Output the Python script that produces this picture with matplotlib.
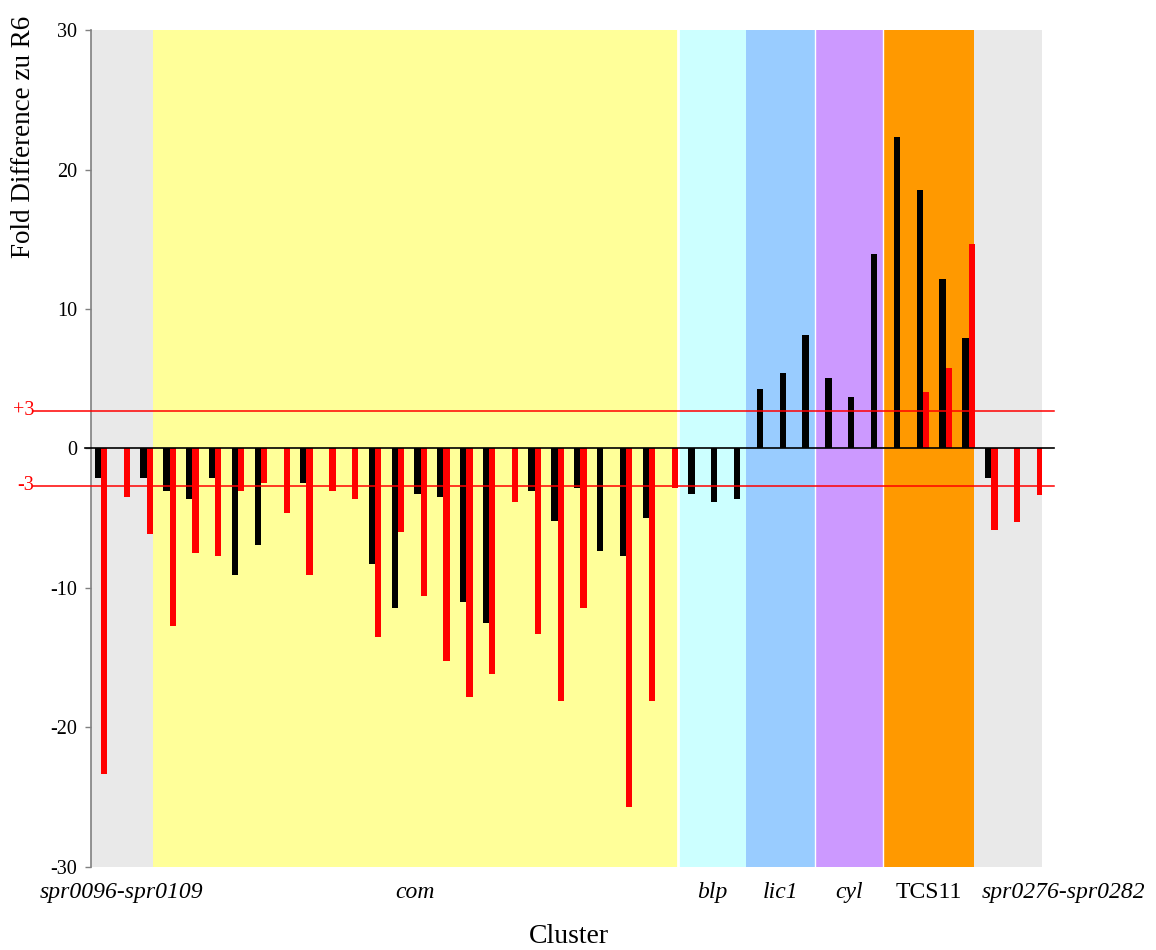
"""Fold difference per gene, grouped by cluster."""

import numpy as np
import matplotlib as mpl

mpl.use("Agg")
import matplotlib.pyplot as plt
import matplotlib.transforms as mtransforms

plt.rcParams["font.family"] = ["Liberation Serif", "DejaVu Serif"]

# values, one entry per gene position (nan = no bar)
black_vals = [
    -2.15, np.nan, -2.15, -3.06, -3.64, -2.15, -9.1, -6.94, np.nan, -2.49,
    np.nan, np.nan, -8.3, -11.4, -3.28, -3.5, -11.03, -12.54, np.nan, -3.06,
    -5.2, -2.85, -7.37, -7.73, -5.0, np.nan, -3.28, -3.85, -3.64, 4.24,
    5.38, 8.11, 5.03, 3.66, 13.93, 22.33, 18.52, 12.13, 7.9, -2.15,
    np.nan, np.nan,
]
red_vals = [
    -23.3, -3.5, -6.15, -12.75, -7.5, -7.73, -3.06, -2.49, -4.64, -9.1,
    -3.06, -3.64, -13.5, -6.0, -10.6, -15.27, -17.8, -16.2, -3.85, -13.33,
    -18.1, -11.4, np.nan, -25.67, -18.1, -2.85, np.nan, np.nan, np.nan, np.nan,
    np.nan, np.nan, np.nan, np.nan, np.nan, np.nan, 4.02, 5.74, 14.64, -5.81,
    -5.24, -3.3,
]

clusters = ["spr0096-spr0109", "com", "blp", "lic1", "cyl", "TCS11", "spr0276-spr0282"]
cluster_sizes = [3, 23, 3, 3, 3, 4, 3]
cluster_colors = ["#E9E9E9", "#FFFF99", "#CCFFFF", "#99CCFF", "#CC99FF", "#FF9900", "#E9E9E9"]
cluster_italic = [True, True, True, True, True, False, True]

threshold = 2.7  # where the +3 / -3 lines sit on the drawn scale
yticks = [-30, -20, -10, 0, 10, 20, 30]

black = np.array(black_vals)
red = np.array(red_vals)
x = np.arange(len(black))
w = 0.275

fig = plt.figure(figsize=(11.56, 9.5), dpi=100)
ax = fig.add_axes([0.0787, 0.0874, 0.8227, 0.881])

# cluster background bands
edges = np.concatenate([[0], np.cumsum(cluster_sizes)]) - 0.74
edges[0] = -0.44
for i, (name, col) in enumerate(zip(clusters, cluster_colors)):
    ax.axvspan(edges[i], edges[i + 1], color=col, lw=0, zorder=0)
for k, lw in [(2, 2.0), (4, 1.0), (5, 1.0)]:
    ax.axvline(edges[k], color="white", lw=lw, zorder=0.5)

mb = ~np.isnan(black)
mr = ~np.isnan(red)
ax.bar(x[mb] - w / 2, black[mb], width=w, color="black", lw=0, zorder=3)
ax.bar(x[mr] + w / 2, red[mr], width=w, color="#FF0000", lw=0, zorder=3)

# reference lines, drawn past the axes like in the original
ax.axhline(0, xmin=-0.0063, xmax=1.0126, color="black", lw=1.2, clip_on=False, zorder=4)
ytrans = mtransforms.blended_transform_factory(ax.transAxes, ax.transData)
for t, lab in [(threshold, "+3"), (-threshold, "-3")]:
    ax.axhline(t, xmin=-0.061, xmax=1.0126, color="#FF0000", lw=1.1, clip_on=False, zorder=4)
    ax.text(-0.060, t + 0.05, lab, transform=ytrans, ha="right", va="center",
            color="#FF0000", fontsize=14.5)

ax.set_xlim(-0.44, 41.22)
ax.set_ylim(-30, 30)
ax.set_yticks(yticks)
ax.set_yticklabels([str(v) for v in yticks], fontsize=14.5)
ax.tick_params(axis="y", direction="out", length=4, width=1, color="#808080", pad=6)
ax.set_xticks([])
for s in ["top", "right", "bottom"]:
    ax.spines[s].set_visible(False)
ax.spines["left"].set_color("#808080")
ax.spines["left"].set_linewidth(1.2)

# cluster names under the bands
trans = mtransforms.blended_transform_factory(ax.transData, ax.transAxes)
for i, name in enumerate(clusters):
    style = "italic" if cluster_italic[i] else "normal"
    if i == len(clusters) - 1:
        ax.text(edges[i] + 0.3, -0.03, name, transform=trans, ha="left", va="center",
                fontsize=17, style=style)
    else:
        ax.text((edges[i] + edges[i + 1]) / 2, -0.03, name, transform=trans, ha="center",
                va="center", fontsize=17, style=style)

ax.text(0.5026, -0.0836, "Cluster", transform=ax.transAxes, ha="center", va="center", fontsize=20)
ax.text(-0.0705, 0.872, "Fold Difference zu R6", transform=ax.transAxes, ha="center",
        va="center", rotation=90, fontsize=19.5)

fig.savefig("out.png", dpi=100)
